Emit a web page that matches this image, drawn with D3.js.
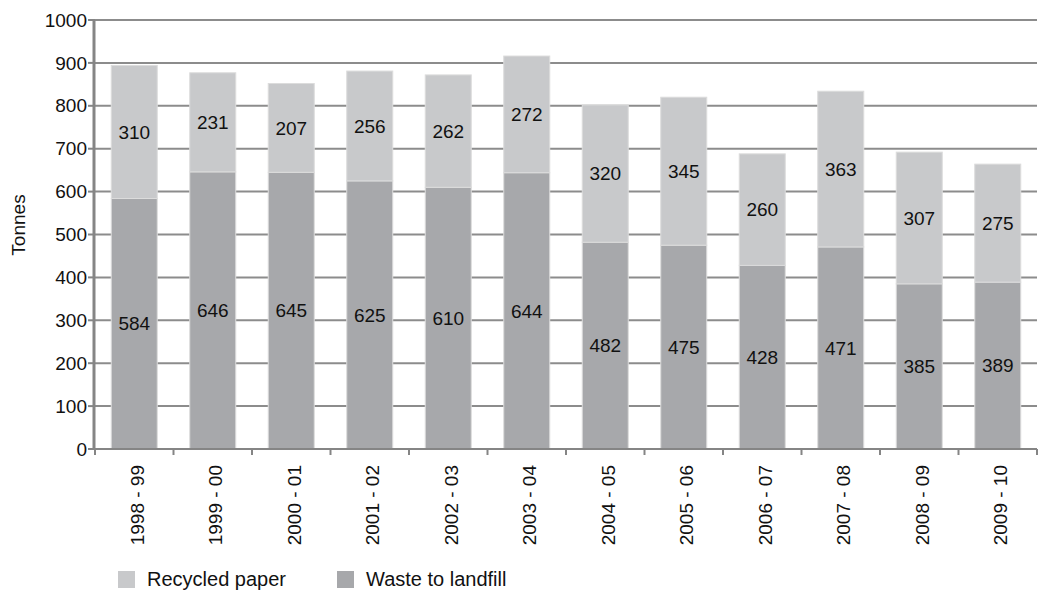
<!DOCTYPE html>
<html>
<head>
<meta charset="utf-8">
<script src="https://cdn.jsdelivr.net/npm/d3@7"></script>
<style>
  html, body { margin: 0; padding: 0; background: #fff; }
  svg { display: block; font-family: "Liberation Sans", Arial, Helvetica, sans-serif; }
</style>
</head>
<body>
<svg id="chart" width="1038" height="590"></svg>
<script>
// Paper use per financial year, in tonnes
const years = ["1998 - 99", "1999 - 00", "2000 - 01", "2001 - 02", "2002 - 03", "2003 - 04",
               "2004 - 05", "2005 - 06", "2006 - 07", "2007 - 08", "2008 - 09", "2009 - 10"];
const landfill = [584, 646, 645, 625, 610, 644, 482, 475, 428, 471, 385, 389];
const recycled = [310, 231, 207, 256, 262, 272, 320, 345, 260, 363, 307, 275];
const yTicks = [0, 100, 200, 300, 400, 500, 600, 700, 800, 900, 1000];
const seriesNames = ["Recycled paper", "Waste to landfill"];

const colLight = "#c8c9cb";
const colDark = "#a7a8ab";
const axisCol = "#858585";
const gridCol = "#8c8c8c";
const textCol = "#111";
const fontSize = 19;

const svg = d3.select("#chart");
const plotLeft = 95, plotRight = 1037, plotTop = 20, plotBottom = 449;

const x = d3.scaleBand().domain(years).range([plotLeft, plotRight]).paddingInner(0.414).paddingOuter(0.207);
const y = d3.scaleLinear().domain([0, 1000]).range([plotBottom, plotTop]);

// horizontal gridlines
svg.append("g").selectAll("line").data(yTicks.filter(d => d > 0)).join("line")
  .attr("x1", plotLeft).attr("x2", plotRight)
  .attr("y1", d => y(d)).attr("y2", d => y(d))
  .attr("stroke", gridCol).attr("stroke-width", 2);

// stacked bars
const rows = years.map((yr, i) => ({ yr, landfill: landfill[i], recycled: recycled[i] }));
const bars = svg.append("g");
bars.selectAll("rect.dark").data(rows).join("rect")
  .attr("class", "dark")
  .attr("x", d => x(d.yr)).attr("width", x.bandwidth())
  .attr("y", d => y(d.landfill)).attr("height", d => y(0) - y(d.landfill))
  .attr("fill", colDark).attr("stroke", "#dcdcdc").attr("stroke-width", 1);
bars.selectAll("rect.light").data(rows).join("rect")
  .attr("class", "light")
  .attr("x", d => x(d.yr)).attr("width", x.bandwidth())
  .attr("y", d => y(d.landfill + d.recycled)).attr("height", d => y(d.landfill) - y(d.landfill + d.recycled))
  .attr("fill", colLight).attr("stroke", "#dcdcdc").attr("stroke-width", 1);

// segment value labels
const labels = svg.append("g").attr("font-size", fontSize).attr("fill", textCol).attr("text-anchor", "middle");
labels.selectAll("text.dl").data(rows).join("text")
  .attr("class", "dl")
  .attr("x", d => x(d.yr) + x.bandwidth() / 2)
  .attr("y", d => y(d.landfill / 2)).attr("dy", "0.35em")
  .text(d => d.landfill);
labels.selectAll("text.rl").data(rows).join("text")
  .attr("class", "rl")
  .attr("x", d => x(d.yr) + x.bandwidth() / 2)
  .attr("y", d => y(d.landfill + d.recycled / 2)).attr("dy", "0.35em")
  .text(d => d.recycled);

// y axis
const yAxis = svg.append("g");
yAxis.selectAll("line.tick").data(yTicks).join("line")
  .attr("class", "tick")
  .attr("x1", plotLeft - 7).attr("x2", plotLeft)
  .attr("y1", d => y(d)).attr("y2", d => y(d))
  .attr("stroke", axisCol).attr("stroke-width", 2);
yAxis.selectAll("text").data(yTicks).join("text")
  .attr("x", plotLeft - 8).attr("y", d => y(d)).attr("dy", "0.35em")
  .attr("text-anchor", "end").attr("font-size", fontSize).attr("fill", textCol)
  .text(d => d);
yAxis.append("line")
  .attr("x1", plotLeft - 1).attr("x2", plotLeft - 1).attr("y1", plotTop).attr("y2", plotBottom + 1)
  .attr("stroke", axisCol).attr("stroke-width", 3);

// x axis
const xAxis = svg.append("g");
const bounds = years.map(d => x(d) - x.step() * x.paddingInner() / 2).concat([plotRight]);
xAxis.selectAll("line.tick").data(bounds).join("line")
  .attr("class", "tick")
  .attr("x1", d => d).attr("x2", d => d).attr("y1", plotBottom).attr("y2", plotBottom + 6)
  .attr("stroke", axisCol).attr("stroke-width", 2);
xAxis.append("line")
  .attr("x1", plotLeft - 2).attr("x2", plotRight).attr("y1", plotBottom).attr("y2", plotBottom)
  .attr("stroke", axisCol).attr("stroke-width", 2);
xAxis.selectAll("text").data(years).join("text")
  .attr("transform", d => `translate(${x(d) + x.bandwidth() / 2},465) rotate(-90)`)
  .attr("dy", "0.5em")
  .attr("text-anchor", "end").attr("font-size", fontSize).attr("fill", textCol)
  .text(d => d);

// y axis title
svg.append("text")
  .attr("transform", "translate(25,225) rotate(-90)")
  .attr("text-anchor", "middle").attr("font-size", fontSize).attr("fill", textCol)
  .text("Tonnes");

// legend
const legend = svg.append("g");
const legendItems = [
  { name: seriesNames[0], color: colLight, x: 118 },
  { name: seriesNames[1], color: colDark, x: 337 }
];
legend.selectAll("rect").data(legendItems).join("rect")
  .attr("x", d => d.x).attr("y", 571).attr("width", 17).attr("height", 17)
  .attr("fill", d => d.color);
legend.selectAll("text").data(legendItems).join("text")
  .attr("x", d => d.x + 29).attr("y", 586)
  .attr("font-size", 20).attr("fill", textCol)
  .text(d => d.name);
</script>
</body>
</html>
